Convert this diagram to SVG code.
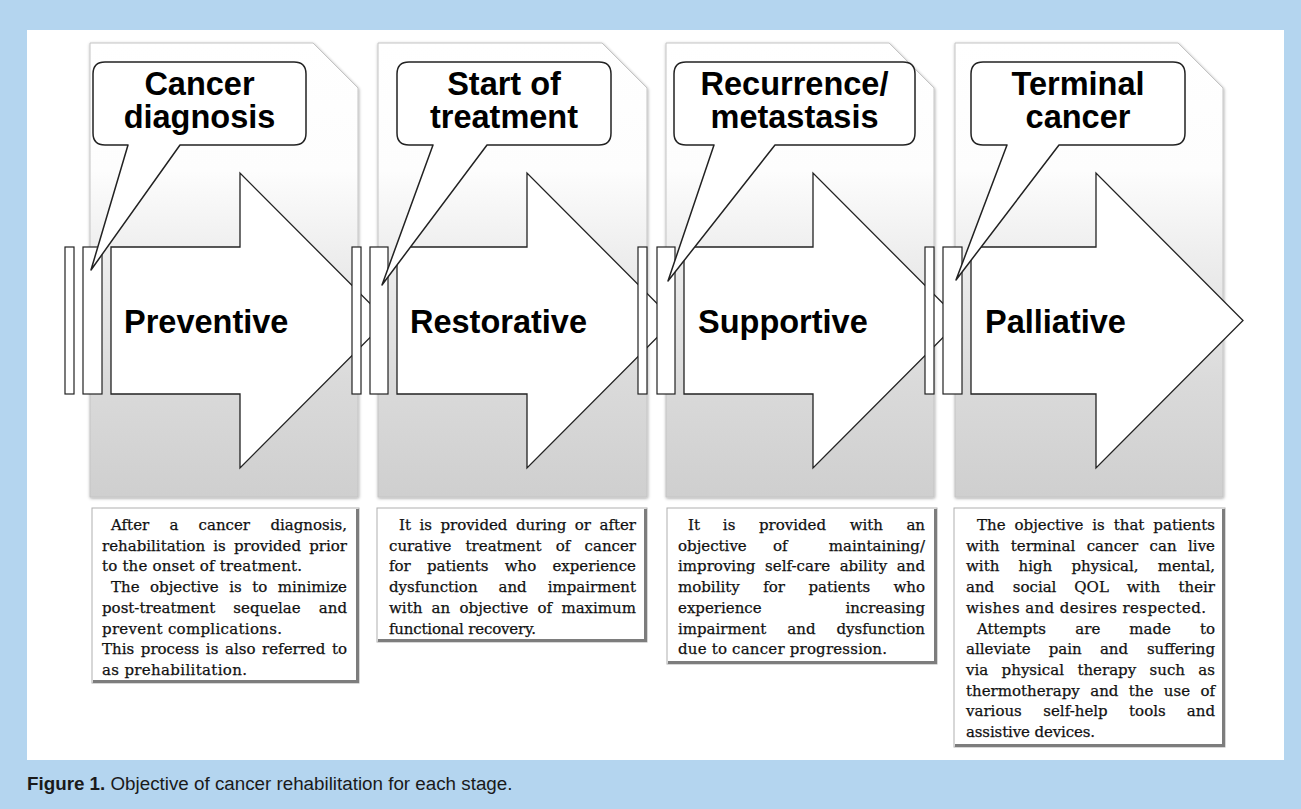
<svg xmlns="http://www.w3.org/2000/svg" width="1301" height="809" viewBox="0 0 1301 809">
  <defs>
    <linearGradient id="panelFill" x1="0" y1="0" x2="0" y2="1">
      <stop offset="0" stop-color="#ffffff"/>
      <stop offset="0.28" stop-color="#fdfdfd"/>
      <stop offset="0.45" stop-color="#efefef"/>
      <stop offset="0.75" stop-color="#dadada"/>
      <stop offset="1" stop-color="#cfcfcf"/>
    </linearGradient>
    <filter id="soft" x="-5%" y="-5%" width="110%" height="110%">
      <feDropShadow dx="0.5" dy="1" stdDeviation="1.5" flood-color="#000" flood-opacity="0.35"/>
    </filter>
  </defs>
  <style>
    .panel { fill: url(#panelFill); stroke: #c4c4c4; stroke-width: 1; filter: url(#soft); }
    .arrow { fill: #ffffff; stroke: #222222; stroke-width: 1.3; stroke-linejoin: miter; }
    .bar { fill: #ffffff; stroke: #222222; stroke-width: 1.2; }
    .bubble { fill: #ffffff; stroke: #222222; stroke-width: 1.5; stroke-linejoin: round; }
    .box { fill: #ffffff; stroke: #b0b0b0; stroke-width: 1; }
    .boxEdge { fill: none; stroke: #7d7d7d; stroke-width: 3; }
    .head { font-family: "Liberation Sans", Arial, sans-serif; font-weight: bold; font-size: 32.5px; fill: #000; text-anchor: middle; }
    .stage { font-family: "Liberation Sans", Arial, sans-serif; font-weight: bold; font-size: 32.5px; fill: #000; }
    .body { font-family: "DejaVu Serif", serif; font-size: 15px; fill: #111; stroke: #111; stroke-width: 0.25; }
    .m { text-anchor: middle; }
    .e { text-anchor: end; }
    .cap { font-family: "Liberation Sans", Arial, sans-serif; font-size: 18.8px; fill: #1a1a1a; }
  </style>

  <!-- page background and white figure area -->
  <rect x="0" y="0" width="1301" height="809" fill="#b4d5ef"/>
  <rect x="27" y="30" width="1257" height="730" fill="#ffffff"/>

  <!-- Stage 1: Preventive -->
  <g id="stage-preventive">
    <path class="panel" d="M90,43 H313 L358,88 V497 H90 Z"/>
    <path class="arrow" d="M111,247 H240 V173 L387,320.5 L240,468 V394 H111 Z"/>
    <text class="stage" x="124" y="333">Preventive</text>
    <rect class="bar" x="65" y="247" width="9" height="147"/>
    <rect class="bar" x="83" y="247" width="19" height="147"/>
    <path class="bubble" d="M105,62 H294 Q306,62 306,74 V133 Q306,145 294,145 H180 L91,270 L128,145 H105 Q93,145 93,133 V74 Q93,62 105,62 Z"/>
    <text class="head" x="199.5" y="95">Cancer</text>
    <text class="head" x="199.5" y="128">diagnosis</text>
    <rect class="box" x="92" y="508" width="267" height="175"/>
    <path class="boxEdge" d="M357.5,509 V681.5 H93"/>
    <text class="body" y="530"><tspan x="111">After</tspan><tspan class="m" x="174.1">a</tspan><tspan class="m" x="224.3">cancer</tspan><tspan class="e" x="347">diagnosis,</tspan></text>
    <text class="body" x="102" y="550.7" textLength="245" lengthAdjust="spacing" word-spacing="3.4">rehabilitation is provided prior</text>
    <text class="body" x="102" y="571.4" textLength="200" lengthAdjust="spacing">to the onset of treatment.</text>
    <text class="body" x="111" y="592.1" textLength="236" lengthAdjust="spacing" word-spacing="5.7">The objective is to minimize</text>
    <text class="body" y="612.8"><tspan x="102">post-treatment</tspan><tspan class="m" x="267">sequelae</tspan><tspan class="e" x="347">and</tspan></text>
    <text class="body" x="102" y="633.5" textLength="180" lengthAdjust="spacing">prevent complications.</text>
    <text class="body" x="102" y="654.2" textLength="245" lengthAdjust="spacing" word-spacing="1.8">This process is also referred to</text>
    <text class="body" x="102" y="674.9" textLength="145" lengthAdjust="spacing">as prehabilitation.</text>
  </g>

  <!-- Stage 2: Restorative -->
  <g id="stage-restorative">
    <path class="panel" d="M378,43 H602 L647,88 V497 H378 Z"/>
    <path class="arrow" d="M397,247 H527 V173 L674,320.5 L527,468 V394 H397 Z"/>
    <text class="stage" x="410" y="333">Restorative</text>
    <rect class="bar" x="352" y="247" width="9" height="147"/>
    <rect class="bar" x="370" y="247" width="18" height="147"/>
    <path class="bubble" d="M409,62 H599 Q611,62 611,74 V133 Q611,145 599,145 H487 L382,285 L433,145 H409 Q397,145 397,133 V74 Q397,62 409,62 Z"/>
    <text class="head" x="504" y="95">Start of</text>
    <text class="head" x="504" y="128">treatment</text>
    <rect class="box" x="377" y="508" width="270" height="134"/>
    <path class="boxEdge" d="M645.5,509 V640.5 H378"/>
    <text class="body" x="399" y="530" textLength="237" lengthAdjust="spacing" word-spacing="3.8">It is provided during or after</text>
    <text class="body" y="550.7"><tspan x="389">curative</tspan><tspan class="m" x="503.5">treatment</tspan><tspan class="m" x="563">of</tspan><tspan class="e" x="636">cancer</tspan></text>
    <text class="body" y="571.4"><tspan x="389">for</tspan><tspan class="m" x="457.7">patients</tspan><tspan class="m" x="520.5">who</tspan><tspan class="e" x="636">experience</tspan></text>
    <text class="body" y="592.1"><tspan x="389">dysfunction</tspan><tspan class="m" x="512.6">and</tspan><tspan class="e" x="636">impairment</tspan></text>
    <text class="body" x="389" y="612.8" textLength="247" lengthAdjust="spacing" word-spacing="4.5">with an objective of maximum</text>
    <text class="body" x="389" y="633.5" textLength="147" lengthAdjust="spacing">functional recovery.</text>
  </g>

  <!-- Stage 3: Supportive -->
  <g id="stage-supportive">
    <path class="panel" d="M666,43 H889 L934,88 V497 H666 Z"/>
    <path class="arrow" d="M684,247 H813 V173 L960,320.5 L813,468 V394 H684 Z"/>
    <text class="stage" x="698" y="333">Supportive</text>
    <rect class="bar" x="638" y="247" width="9" height="147"/>
    <rect class="bar" x="657" y="247" width="18" height="147"/>
    <path class="bubble" d="M686,62 H903 Q915,62 915,74 V133 Q915,145 903,145 H775 L668,281 L714,145 H686 Q674,145 674,133 V74 Q674,62 686,62 Z"/>
    <text class="head" x="794.5" y="95">Recurrence/</text>
    <text class="head" x="794.5" y="128">metastasis</text>
    <rect class="box" x="667" y="508" width="270" height="156"/>
    <path class="boxEdge" d="M935.5,509 V662.5 H668"/>
    <text class="body" y="530"><tspan x="688">It</tspan><tspan class="m" x="729.1">is</tspan><tspan class="m" x="792.5">provided</tspan><tspan class="m" x="866.3">with</tspan><tspan class="e" x="925">an</tspan></text>
    <text class="body" y="550.7"><tspan x="678">objective</tspan><tspan class="m" x="780.3">of</tspan><tspan class="e" x="925">maintaining/</tspan></text>
    <text class="body" x="678" y="571.4" textLength="247" lengthAdjust="spacing" word-spacing="4.8">improving self-care ability and</text>
    <text class="body" y="592.1"><tspan x="678">mobility</tspan><tspan class="m" x="774.1">for</tspan><tspan class="m" x="839.3">patients</tspan><tspan class="e" x="925">who</tspan></text>
    <text class="body" y="612.8"><tspan x="678">experience</tspan><tspan class="e" x="925">increasing</tspan></text>
    <text class="body" y="633.5"><tspan x="678">impairment</tspan><tspan class="m" x="801.4">and</tspan><tspan class="e" x="925">dysfunction</tspan></text>
    <text class="body" x="678" y="654.2" textLength="209" lengthAdjust="spacing">due to cancer progression.</text>
  </g>

  <!-- Stage 4: Palliative -->
  <g id="stage-palliative">
    <path class="panel" d="M955,43 H1178 L1223,88 V497 H955 Z"/>
    <path class="arrow" d="M971,247 H1096 V173 L1243,320.5 L1096,468 V394 H971 Z"/>
    <text class="stage" x="985" y="333">Palliative</text>
    <rect class="bar" x="925" y="247" width="9" height="147"/>
    <rect class="bar" x="943" y="247" width="19" height="147"/>
    <path class="bubble" d="M983,62 H1173 Q1185,62 1185,74 V133 Q1185,145 1173,145 H1059 L956,280 L1007,145 H983 Q971,145 971,133 V74 Q971,62 983,62 Z"/>
    <text class="head" x="1078" y="95">Terminal</text>
    <text class="head" x="1078" y="128">cancer</text>
    <rect class="box" x="954" y="508" width="271" height="239"/>
    <path class="boxEdge" d="M1223.5,509 V745.5 H955"/>
    <text class="body" x="977" y="530" textLength="238" lengthAdjust="spacing" word-spacing="4.2">The objective is that patients</text>
    <text class="body" x="966" y="550.7" textLength="249" lengthAdjust="spacing" word-spacing="6.7">with terminal cancer can live</text>
    <text class="body" y="571.4"><tspan x="966">with</tspan><tspan class="m" x="1035.4">high</tspan><tspan class="m" x="1105">physical,</tspan><tspan class="e" x="1215">mental,</tspan></text>
    <text class="body" y="592.1"><tspan x="966">and</tspan><tspan class="m" x="1034.6">social</tspan><tspan class="m" x="1091.6">QOL</tspan><tspan class="m" x="1143.4">with</tspan><tspan class="e" x="1215">their</tspan></text>
    <text class="body" x="966" y="612.8" textLength="240" lengthAdjust="spacing">wishes and desires respected.</text>
    <text class="body" y="633.5"><tspan x="977">Attempts</tspan><tspan class="m" x="1087.8">are</tspan><tspan class="m" x="1150.1">made</tspan><tspan class="e" x="1215">to</tspan></text>
    <text class="body" y="654.2"><tspan x="966">alleviate</tspan><tspan class="m" x="1065.2">pain</tspan><tspan class="m" x="1114">and</tspan><tspan class="e" x="1215">suffering</tspan></text>
    <text class="body" x="966" y="674.9" textLength="249" lengthAdjust="spacing" word-spacing="8.6">via physical therapy such as</text>
    <text class="body" x="966" y="695.6" textLength="249" lengthAdjust="spacing" word-spacing="5.6">thermotherapy and the use of</text>
    <text class="body" y="716.3"><tspan x="966">various</tspan><tspan class="m" x="1075.5">self-help</tspan><tspan class="m" x="1147.4">tools</tspan><tspan class="e" x="1215">and</tspan></text>
    <text class="body" x="966" y="737" textLength="129" lengthAdjust="spacing">assistive devices.</text>
  </g>

  <!-- the block arrows are drawn inside each stage group; no separate connectors -->
  <g id="connectors"/>

  <!-- caption -->
  <text class="cap" x="27" y="790"><tspan font-weight="bold">Figure 1.</tspan> Objective of cancer rehabilitation for each stage.</text>
</svg>
